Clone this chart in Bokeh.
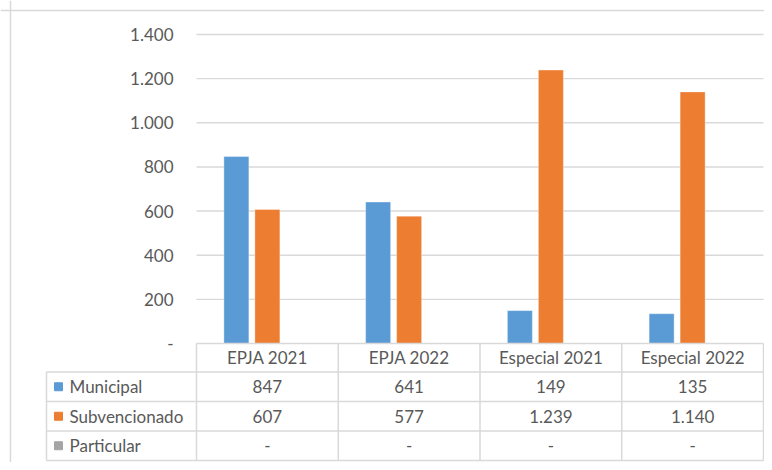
from bokeh.plotting import figure
from bokeh.models import Range1d, ColumnDataSource, Span
from bokeh.core.properties import value
from bokeh.embed import file_html
from bokeh.resources import INLINE

# ---- data ----
categories = ["EPJA 2021", "EPJA 2022", "Especial 2021", "Especial 2022"]
series_names = ["Municipal", "Subvencionado", "Particular"]
municipal = [847, 641, 149, 135]
subvencionado = [607, 577, 1239, 1140]
particular = [0, 0, 0, 0]
y_ticks = [0, 200, 400, 600, 800, 1000, 1200, 1400]
colors = ["#5B9BD5", "#ED7D31", "#A5A5A5"]

def fmt(v):
    if v == 0:
        return "-"
    return f"{v:,}".replace(",", ".")

# ---- layout constants (pixels within the figure) ----
W, H = 764, 462
PLOT_X0, CAT_W = 196, 141.75        # category 0 starts here
ZERO_Y, TOP_Y = 343, 34             # pixel rows of 0 and of the top tick
Y_PX = (ZERO_Y - TOP_Y) / 1400      # px per unit
HDR_H, ROW_H = 28.5, 29.5           # table header / row heights
TABLE_LEFT_PX = 46
BORDER_PX = 10
GRID = "#D9D9D9"
TXT = "#595959"
FONT = value("Lato")
FS = "17px"

def xv(px):
    return (px - PLOT_X0) / CAT_W

x_start, x_end = xv(0), xv(W)
y_start = -(H - ZERO_Y) / Y_PX
y_end = ZERO_Y / Y_PX

# table y scale: 1 unit = ROW_H px, 0 at the bottom of the header row
T0 = ZERO_Y + HDR_H
t_start = -(H - T0) / ROW_H
t_end = T0 / ROW_H
hdr_top = HDR_H / ROW_H

p = figure(width=W, height=H, output_backend="svg", toolbar_location=None,
           x_axis_location=None, y_axis_location=None,
           x_range=Range1d(x_start, x_end), y_range=Range1d(y_start, y_end),
           min_border_left=0, min_border_top=0,
           min_border_right=0, min_border_bottom=0)
p.extra_y_ranges = {"tbl": Range1d(t_start, t_end)}
p.grid.visible = False
p.outline_line_color = None
p.background_fill_color = "white"
p.border_fill_color = "white"

# chart border (top and left visible in the reference)
p.add_layout(Span(location=xv(BORDER_PX), dimension="height", line_color=GRID, line_width=1.5))
p.add_layout(Span(location=(ZERO_Y - BORDER_PX) / Y_PX, dimension="width",
                  line_color=GRID, line_width=1.5))

n = len(categories)
# gridlines in plot area only
gt = y_ticks[1:]
p.segment(x0=[0] * len(gt), x1=[n] * len(gt), y0=gt, y1=gt,
          line_color=GRID, line_width=1.4)

# y tick labels
tick_x = xv(173)
p.text(x=[tick_x] * len(y_ticks), y=y_ticks, text=[fmt(t) for t in y_ticks],
       text_align="right", text_baseline="middle", text_font=FONT,
       text_font_size=FS, text_color=TXT)

# bars
bar_w = 25 / CAT_W
step = 31 / CAT_W
series = [municipal, subvencionado, particular]
for k, vals in enumerate(series):
    xs = [i + 0.5 + (k - 1) * step for i in range(n)]
    src = ColumnDataSource(dict(x=[x for x, v in zip(xs, vals) if v > 0],
                                top=[v for v in vals if v > 0]))
    p.vbar(x="x", top="top", bottom=0, width=bar_w, source=src,
           fill_color=colors[k], line_color="white", line_alpha=0.35, line_width=1)

# ---- data table ----
tl = xv(TABLE_LEFT_PX)
nrows = len(series_names)
hy = [hdr_top] + [-r for r in range(nrows + 1)]
hx0 = [0] + [tl] * (nrows + 1)
hx1 = [n] * (nrows + 2)
p.segment(x0=hx0, x1=hx1, y0=hy, y1=hy, y_range_name="tbl",
          line_color=GRID, line_width=1.5)
vx = list(range(n + 1)) + [tl]
vy0 = [hdr_top] * (n + 1) + [0]
vy1 = [-nrows] * (n + 2)
p.segment(x0=vx, x1=vx, y0=vy0, y1=vy1, y_range_name="tbl",
          line_color=GRID, line_width=1.5)

# header texts
p.text(x=[i + 0.5 for i in range(n)], y=[hdr_top / 2] * n, text=categories, y_range_name="tbl",
       text_align="center", text_baseline="middle", text_font=FONT,
       text_font_size=FS, text_color=TXT)

# rows
key_x = xv(58)
lab_x = xv(69)
for r, (name, vals) in enumerate(zip(series_names, series)):
    ry = -(r + 0.5)
    p.scatter(x=[key_x], y=[ry], marker="square", size=8, y_range_name="tbl",
              fill_color=colors[r], line_color=colors[r])
    p.text(x=[lab_x], y=[ry], text=[name], y_range_name="tbl",
           text_align="left", text_baseline="middle", text_font=FONT,
           text_font_size=FS, text_color=TXT)
    p.text(x=[i + 0.5 for i in range(n)], y=[ry] * n, text=[fmt(v) for v in vals],
           y_range_name="tbl", text_align="center", text_baseline="middle",
           text_font=FONT, text_font_size=FS, text_color=TXT)

open("out.html", "w").write(file_html(p, INLINE))
